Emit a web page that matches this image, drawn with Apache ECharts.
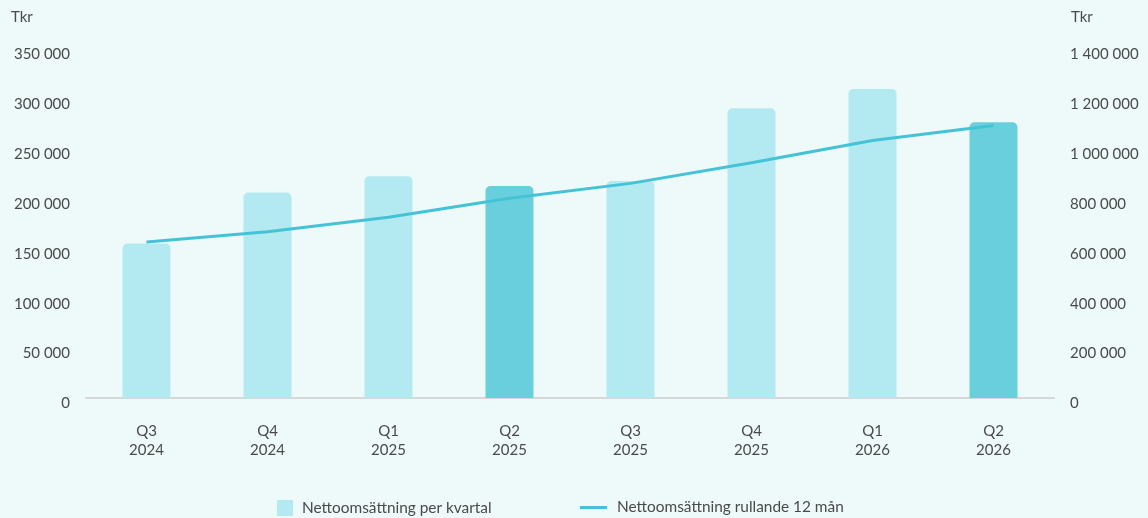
<!DOCTYPE html>
<html>
<head>
<meta charset="utf-8">
<script src="https://cdn.jsdelivr.net/npm/echarts@6/dist/echarts.min.js"></script>
<style>
  html, body { margin: 0; padding: 0; background: #eef9fa; }
  #chart { width: 1148px; height: 518px; }
</style>
</head>
<body>
<div id="chart"></div>
<script>
// kvartal (x-axel)
var categories = ['Q3\n2024', 'Q4\n2024', 'Q1\n2025', 'Q2\n2025', 'Q3\n2025', 'Q4\n2025', 'Q1\n2026', 'Q2\n2026']
// Nettoomsättning per kvartal, Tkr (vänster axel)
var quarterly = [155000, 206000, 222500, 212500, 217500, 290500, 310000, 276500]
// Nettoomsättning rullande 12 mån, Tkr (höger axel)
var rolling12 = [626000, 667000, 725000, 801000, 861000, 944000, 1033000, 1093000]

var leftMax = 350000
var rightMax = 1400000

var lightColor = '#b3e9f1'
var darkColor = '#6acfdc'
var lineColor = '#45c3d6'
var textColor = '#4a4a4a'

function fmt(v) {
  return String(v).replace(/\B(?=(\d{3})+(?!\d))/g, ' ')
}

var chart = echarts.init(document.getElementById('chart'))
chart.setOption({
  backgroundColor: '#eef9fa',
  textStyle: { fontFamily: 'Lato', color: textColor },
  animation: false,
  title: [
    { text: 'Tkr', left: 11, top: 10, padding: 0, textStyle: { fontFamily: 'Lato', fontSize: 15, fontWeight: 'normal', color: textColor } },
    { text: 'Tkr', left: 1071, top: 10, padding: 0, textStyle: { fontFamily: 'Lato', fontSize: 15, fontWeight: 'normal', color: textColor } }
  ],
  grid: { left: 86, right: 94, top: 49, bottom: 120 },
  legend: [
    {
      data: ['Nettoomsättning per kvartal'],
      left: 272,
      top: 495,
      itemWidth: 16,
      itemHeight: 16,
      icon: 'rect',
      itemStyle: { color: lightColor },
      textStyle: { fontFamily: 'Lato', fontSize: 15.4, color: textColor, padding: [0, 0, 0, 4] }
    },
    {
      data: ['Nettoomsättning rullande 12 mån'],
      left: 575,
      top: 495,
      itemWidth: 27,
      itemHeight: 3,
      icon: 'rect',
      itemStyle: { color: lineColor },
      textStyle: { fontFamily: 'Lato', fontSize: 15.4, color: textColor, padding: [0, 0, 0, 5] }
    }
  ],
  xAxis: {
    type: 'category',
    data: categories,
    axisLine: { lineStyle: { color: '#d6d8d8', width: 2 } },
    axisTick: { show: false },
    axisLabel: { fontFamily: 'Lato', fontSize: 15, color: textColor, lineHeight: 19, margin: 24 }
  },
  yAxis: [
    {
      type: 'value',
      min: 0,
      max: leftMax,
      interval: 50000,
      splitLine: { show: false },
      axisLine: { show: false },
      axisTick: { show: false },
      axisLabel: { fontFamily: 'Lato', fontSize: 15, color: textColor, margin: 16, verticalAlign: 'top', lineHeight: 11, formatter: fmt }
    },
    {
      type: 'value',
      min: 0,
      max: rightMax,
      interval: 200000,
      splitLine: { show: false },
      axisLine: { show: false },
      axisTick: { show: false },
      axisLabel: { fontFamily: 'Lato', fontSize: 15, color: textColor, margin: 16, verticalAlign: 'top', lineHeight: 11, formatter: fmt }
    }
  ],
  series: [
    {
      name: 'Nettoomsättning per kvartal',
      type: 'bar',
      yAxisIndex: 0,
      barWidth: 48,
      data: quarterly,
      itemStyle: {
        borderRadius: [5, 5, 0, 0],
        color: function (p) { // Q2 markeras mörkare
          return categories[p.dataIndex].indexOf('Q2') === 0 ? darkColor : lightColor
        }
      },
      z: 1
    },
    {
      name: 'Nettoomsättning rullande 12 mån',
      type: 'line',
      yAxisIndex: 1,
      data: rolling12,
      symbol: 'none',
      smooth: false,
      lineStyle: { color: lineColor, width: 3 },
      itemStyle: { color: lineColor },
      z: 3
    }
  ]
})
</script>
</body>
</html>
